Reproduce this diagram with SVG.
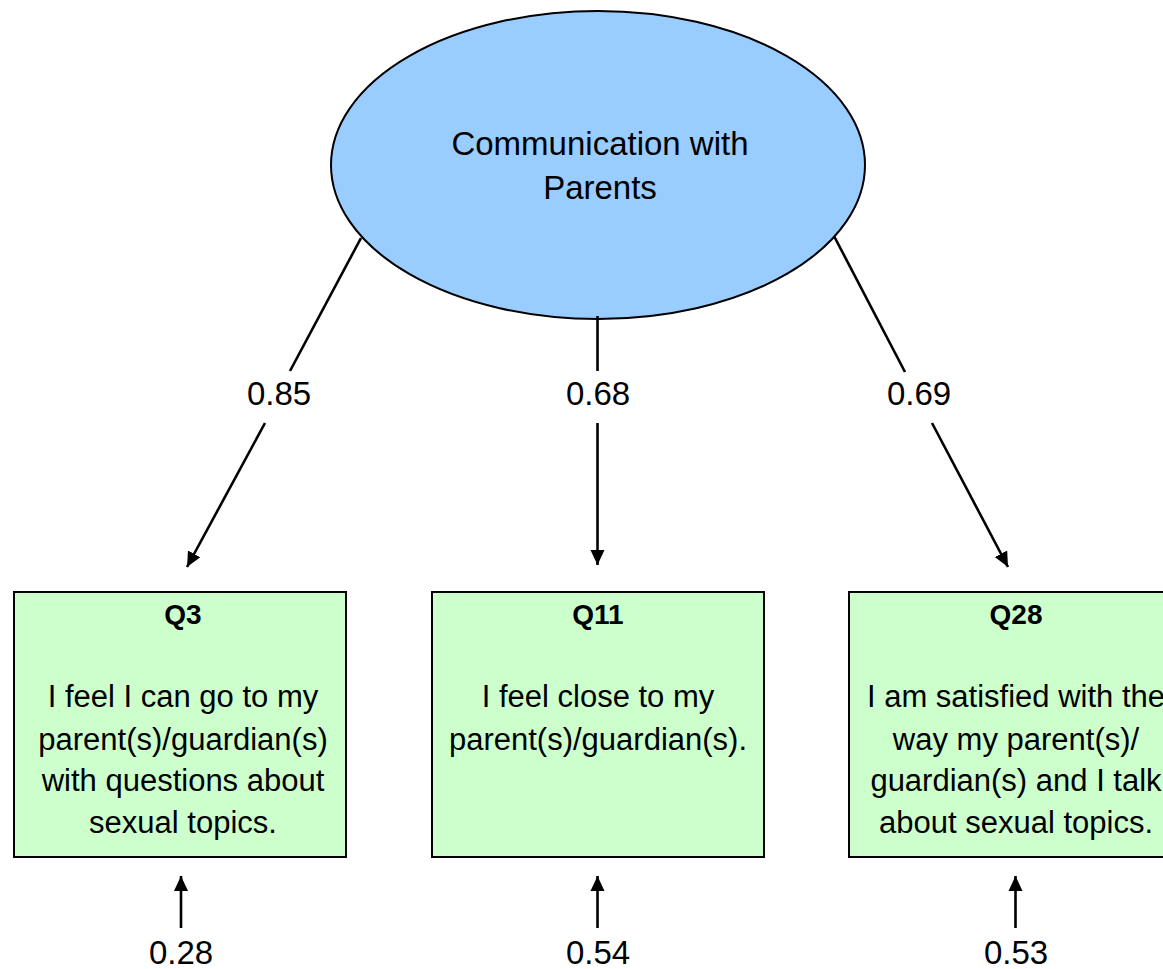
<svg xmlns="http://www.w3.org/2000/svg" width="1163" height="969" viewBox="0 0 1163 969">
<defs>
<style>
text{font-family:"Liberation Sans",Arial,sans-serif;fill:#000;text-anchor:middle}
.lat{font-size:33px}
.num{font-size:33px}
.q{font-size:28px;font-weight:bold}
.body{font-size:31px}
.box{fill:#CCFFCC;stroke:#000;stroke-width:2}
.ln{stroke:#000;stroke-width:2.6;fill:none}
</style>
<marker id="ah" markerUnits="userSpaceOnUse" markerWidth="16" markerHeight="16" viewBox="0 0 16 16" refX="15" refY="8" orient="auto">
<path d="M0,1 L15,8 L0,15 Z" fill="#000"/>
</marker>
</defs>
<rect width="1163" height="969" fill="#fff"/>
<g id="latent">
<ellipse cx="598" cy="165" rx="267" ry="154" fill="#99CCFF" stroke="#000" stroke-width="2"/>
<text class="lat" x="600" y="155">Communication with</text>
<text class="lat" x="600" y="199">Parents</text>
</g>
<g id="connectors">
<line class="ln" x1="361" y1="238" x2="290" y2="371"/>
<line class="ln" x1="265" y1="423" x2="187" y2="567" marker-end="url(#ah)"/>
<line class="ln" x1="597.5" y1="316" x2="597.5" y2="371"/>
<line class="ln" x1="597.5" y1="423" x2="597.5" y2="565" marker-end="url(#ah)"/>
<line class="ln" x1="834" y1="236" x2="905" y2="372"/>
<line class="ln" x1="932" y1="423" x2="1008" y2="567" marker-end="url(#ah)"/>
<line class="ln" x1="181" y1="928" x2="181" y2="876" marker-end="url(#ah)"/>
<line class="ln" x1="597.5" y1="928" x2="597.5" y2="876" marker-end="url(#ah)"/>
<line class="ln" x1="1015.5" y1="928" x2="1015.5" y2="876" marker-end="url(#ah)"/>
<text class="num" x="279" y="405">0.85</text>
<text class="num" x="598" y="405">0.68</text>
<text class="num" x="919" y="405">0.69</text>
<text class="num" x="181" y="964">0.28</text>
<text class="num" x="598" y="964">0.54</text>
<text class="num" x="1016" y="964">0.53</text>
</g>
<g id="q3">
<rect class="box" x="14" y="592" width="332" height="265"/>
<text class="q" x="183" y="624">Q3</text>
<text class="body" x="183" y="707">I feel I can go to my</text>
<text class="body" x="183" y="750">parent(s)/guardian(s)</text>
<text class="body" x="183" y="791">with questions about</text>
<text class="body" x="183" y="833">sexual topics.</text>
</g>
<g id="q11">
<rect class="box" x="432" y="592" width="332" height="265"/>
<text class="q" x="598" y="624">Q11</text>
<text class="body" x="598" y="707">I feel close to my</text>
<text class="body" x="598" y="750">parent(s)/guardian(s).</text>
</g>
<g id="q28">
<rect class="box" x="849" y="592" width="332" height="265"/>
<text class="q" x="1016" y="624">Q28</text>
<text class="body" x="1016" y="707">I am satisfied with the</text>
<text class="body" x="1016" y="750">way my parent(s)/</text>
<text class="body" x="1016" y="791">guardian(s) and I talk</text>
<text class="body" x="1016" y="833">about sexual topics.</text>
</g>
</svg>
